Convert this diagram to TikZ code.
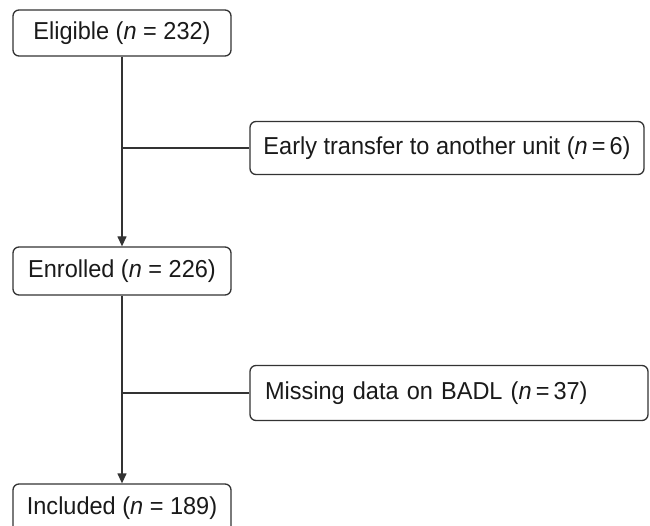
\documentclass[tikz,border=0pt]{standalone}
\usepackage{fontspec}
\setmainfont{Liberation Sans}[FakeStretch=0.96]
\usetikzlibrary{arrows.meta}
\definecolor{linec}{HTML}{333333}
\definecolor{textc}{HTML}{1A1A1A}
\tikzset{
  flowbox/.style={draw=linec, line width=1.3pt, rounded corners=6pt, rectangle,
    inner sep=0pt, text=textc, font=\fontsize{24.5}{28}\selectfont, align=center},
  conn/.style={draw=linec, line width=1.3pt},
  arr/.style={conn, -{Triangle[length=10pt,width=9pt]}}
}
\begin{document}
\begin{tikzpicture}[x=1pt,y=1pt]
\clip (0,0) rectangle (650,525);
\fill[white] (0,0) rectangle (650,525);
\node[flowbox, minimum width=218pt, minimum height=46pt] (elig) at (122,492) {Eligible (\textit{n} = 232)};
\node[flowbox, minimum width=394pt, minimum height=53pt] (early) at (447,377) {Early transfer to another unit (\textit{n}\,=\,6)};
\node[flowbox, minimum width=218pt, minimum height=48pt] (enrol) at (122,254) {Enrolled (\textit{n} = 226)};
\node[flowbox, minimum width=398pt, minimum height=55pt, text width=368pt, align=left, inner xsep=15pt] (miss) at (449,132) {Missing data on BADL (\textit{n}\,=\,37)};
\node[flowbox, minimum width=218pt, minimum height=48pt] (incl) at (122,17) {Included (\textit{n} = 189)};
\coordinate (b1) at (122,377);
\coordinate (b2) at (122,132);
\draw[arr] (elig) -- (enrol);
\draw[arr] (enrol) -- (incl);
\draw[conn] (b1) -- (early.west);
\draw[conn] (b2) -- (miss.west);
\end{tikzpicture}
\end{document}
